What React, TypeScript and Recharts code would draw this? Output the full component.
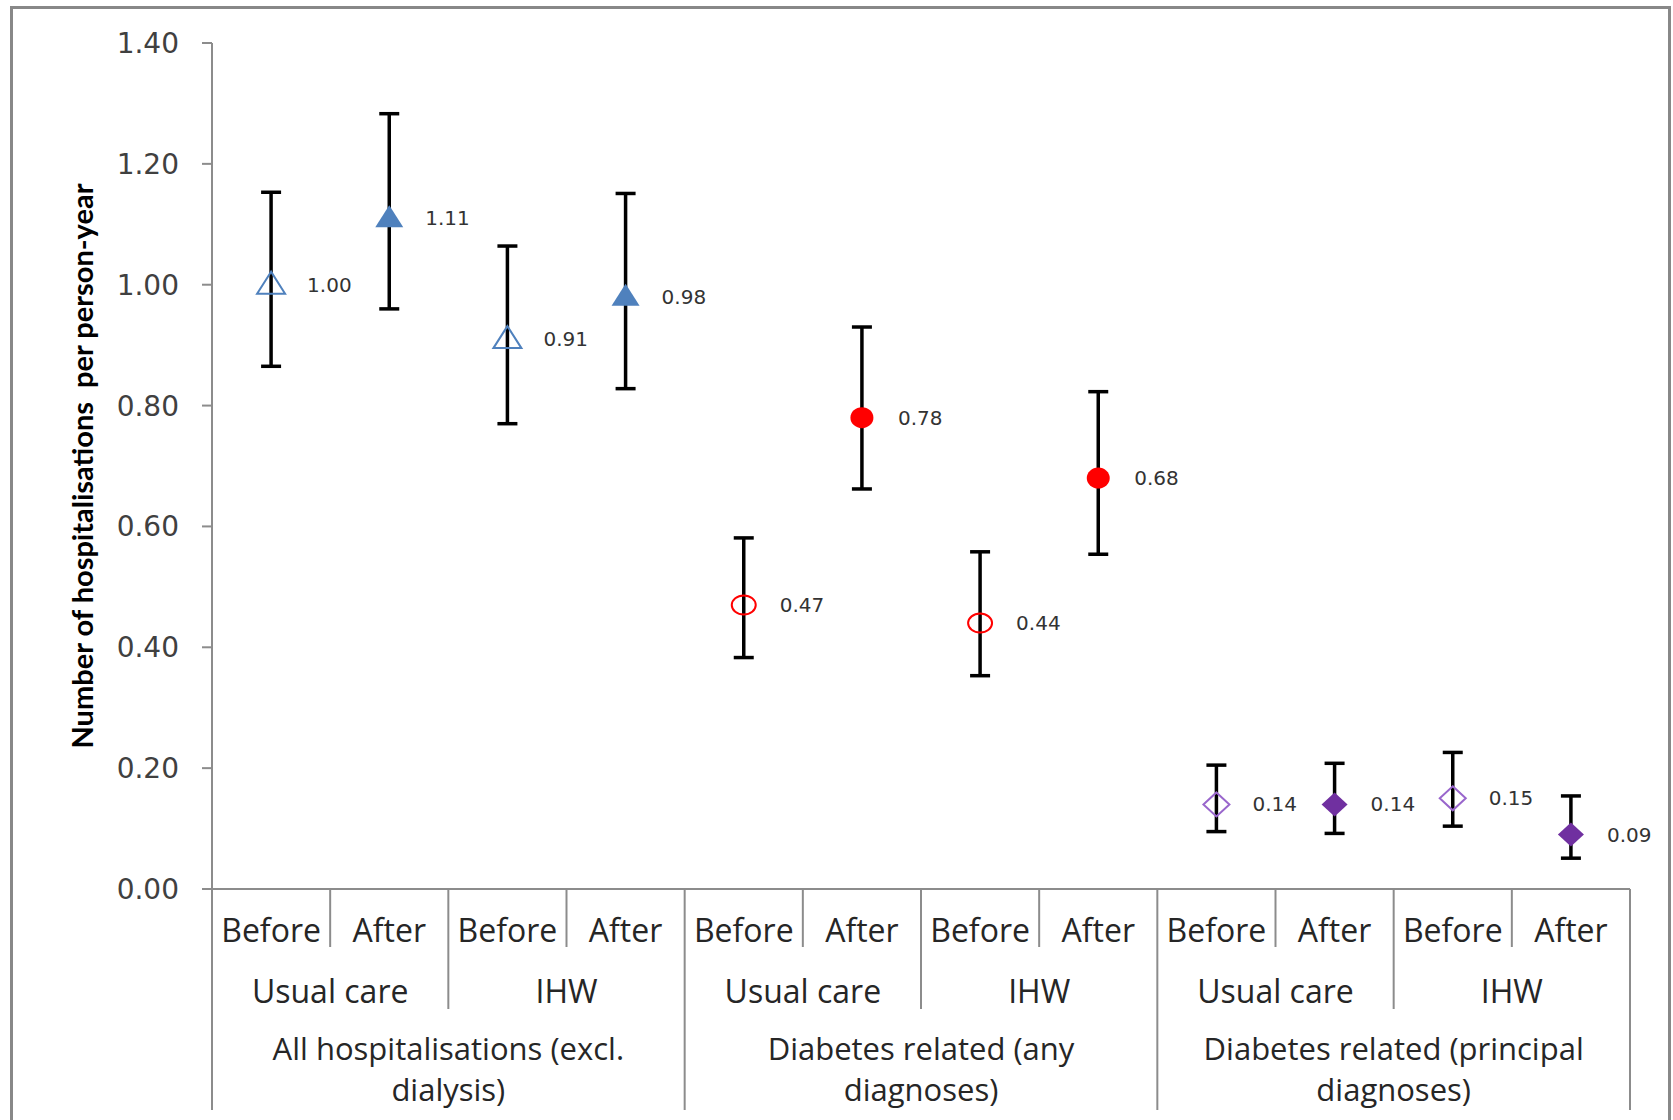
import React from "react";
import {
  ComposedChart,
  Line,
  XAxis,
  YAxis,
  ErrorBar,
  LabelList,
  Label,
} from "recharts";

// categories (three levels)
const groupLines = [
  ["All hospitalisations (excl.", "dialysis)"],
  ["Diabetes related (any", "diagnoses)"],
  ["Diabetes related (principal", "diagnoses)"],
];
const arms = ["Usual care", "IHW"];
const periods = ["Before", "After"];

// hospitalisations per person-year, with 95% CI
const rates = [1.0, 1.11, 0.91, 0.98, 0.47, 0.78, 0.44, 0.68, 0.14, 0.14, 0.15, 0.09];
const lower = [0.865, 0.96, 0.77, 0.828, 0.383, 0.662, 0.353, 0.554, 0.095, 0.092, 0.104, 0.051];
const upper = [1.153, 1.283, 1.064, 1.151, 0.581, 0.93, 0.558, 0.823, 0.205, 0.208, 0.226, 0.154];

const yTicks = [0, 0.2, 0.4, 0.6, 0.8, 1.0, 1.2, 1.4];

const groupColors = ["#4F81BD", "#FF0000", "#7030A0"];
const hollowColors = ["#4F81BD", "#FF0000", "#9966CC"];
const groupShapes = ["triangle", "circle", "diamond"];

const data = rates.map((v, i) => {
  const g = Math.floor(i / 4);
  const a = Math.floor((i % 4) / 2);
  const p = i % 2;
  return {
    id: `${g}-${a}-${p}`,
    group: g,
    arm: arms[a],
    period: periods[p],
    rate: v,
    ci: [v - lower[i], upper[i] - v],
  };
});

const W = 1673;
const H = 1120;
const PLOT_LEFT = 212;
const PLOT_RIGHT = 1630;
const PLOT_TOP = 43;
const PLOT_BOTTOM = 889;
const BAND = (PLOT_RIGHT - PLOT_LEFT) / rates.length;

const axisGray = "#8c8c8c";
const textColor = "#262626";
const xFont = "'Open Sans', sans-serif";
const xSize = 32;

function Marker(props: any) {
  const { cx, cy, index } = props;
  if (cx == null || cy == null) return null;
  const d = data[index];
  const filled = d.period === "After";
  const shape = groupShapes[d.group];
  const color = filled ? groupColors[d.group] : hollowColors[d.group];
  const fill = filled ? color : "none";
  const sw = filled ? 0 : 2;
  if (shape === "triangle") {
    const pts = `${cx},${cy - 13} ${cx - 14},${cy + 9} ${cx + 14},${cy + 9}`;
    return <polygon key={index} points={pts} fill={fill} stroke={color} strokeWidth={sw} />;
  }
  if (shape === "circle") {
    return (
      <ellipse key={index} cx={cx} cy={cy} rx={filled ? 11.5 : 12} ry={filled ? 10.5 : 9.5} fill={fill} stroke={color} strokeWidth={sw} />
    );
  }
  const pts = `${cx},${cy - 12} ${cx + 13},${cy} ${cx},${cy + 12} ${cx - 13},${cy}`;
  return <polygon key={index} points={pts} fill={fill} stroke={color} strokeWidth={sw} />;
}

function ValueLabel(props: any) {
  const { x, y, value } = props;
  return (
    <text
      x={x + 36}
      y={y}
      dominantBaseline="central"
      fontFamily="'DejaVu Sans', sans-serif"
      fontSize={20}
      fill="#333"
    >
      {Number(value).toFixed(2)}
    </text>
  );
}

function CategoryTick(props: any) {
  const { x, index } = props;
  const left = x - BAND / 2;
  const d = data[index];
  const bottom = index % 4 === 0 ? 1110 : index % 2 === 0 ? 1009 : 947;
  return (
    <g>
      <line x1={left} y1={PLOT_BOTTOM} x2={left} y2={bottom} stroke={axisGray} strokeWidth={2} />
      {index === rates.length - 1 && (
        <line x1={left + BAND} y1={PLOT_BOTTOM} x2={left + BAND} y2={1110} stroke={axisGray} strokeWidth={2} />
      )}
      <text x={x} y={929} textAnchor="middle" dominantBaseline="central" fontFamily={xFont} fontSize={xSize} fill={textColor}>
        {d.period}
      </text>
      {index % 2 === 0 && (
        <text x={x + BAND / 2} y={990} textAnchor="middle" dominantBaseline="central" fontFamily={xFont} fontSize={xSize} fill={textColor}>
          {d.arm}
        </text>
      )}
      {index % 4 === 0 &&
        groupLines[d.group].map((ln, k) => (
          <text
            key={k}
            x={x + BAND * 1.5}
            y={1048 + k * 41}
            textAnchor="middle"
            dominantBaseline="central"
            fontFamily={xFont}
            fontSize={31}
            fill={textColor}
          >
            {ln}
          </text>
        ))}
    </g>
  );
}

export default function App() {
  return (
    <div style={{ position: "absolute", left: 0, top: 0, width: W, height: H, overflow: "hidden", background: "#fff" }}>
      <div
        style={{
          position: "absolute",
          left: 10,
          top: 6,
          width: 1655,
          height: 1130,
          border: "3px solid #888",
        }}
      />
      <div style={{ position: "absolute", left: 0, top: 0 }}>
        <ComposedChart
          width={W}
          height={H}
          data={data}
          margin={{ top: PLOT_TOP, right: W - PLOT_RIGHT, bottom: 0, left: 0 }}
        >
          <XAxis
            dataKey="id"
            type="category"
            scale="band"
            interval={0}
            height={H - PLOT_BOTTOM}
            tickLine={false}
            axisLine={{ stroke: axisGray, strokeWidth: 2 }}
            tick={<CategoryTick />}
          />
          <YAxis
            type="number"
            domain={[0, 1.4]}
            ticks={yTicks}
            width={PLOT_LEFT}
            tickSize={10}
            tickMargin={23}
            tickLine={{ stroke: axisGray, strokeWidth: 2 }}
            axisLine={{ stroke: axisGray, strokeWidth: 2 }}
            tickFormatter={(v: number) => v.toFixed(2)}
            tick={{ fontFamily: "'DejaVu Sans', sans-serif", fontSize: 28, fill: "#404040" }}
          >
            <Label
              content={(p: any) => {
                const vb = p.viewBox || { y: PLOT_TOP, height: PLOT_BOTTOM - PLOT_TOP };
                const cy = vb.y + vb.height / 2;
                return (
                  <text
                    x={81}
                    y={cy}
                    transform={`rotate(-90 81 ${cy})`}
                    textAnchor="middle"
                    dominantBaseline="central"
                    fontFamily="Lato, sans-serif"
                    fontWeight="bold"
                    fontSize={29}
                    fill="#000"
                    style={{ whiteSpace: "pre" }}
                  >
                    {"Number of hospitalisations  per person-year"}
                  </text>
                );
              }}
            />
          </YAxis>
          <Line
            dataKey="rate"
            stroke="none"
            isAnimationActive={false}
            dot={(p: any) => <Marker key={p.index} {...p} />}
            activeDot={false}
          >
            <ErrorBar dataKey="ci" direction="y" width={10} stroke="#000" strokeWidth={3.5} isAnimationActive={false} />
            <LabelList dataKey="rate" content={<ValueLabel />} />
          </Line>
        </ComposedChart>
      </div>
    </div>
  );
}
